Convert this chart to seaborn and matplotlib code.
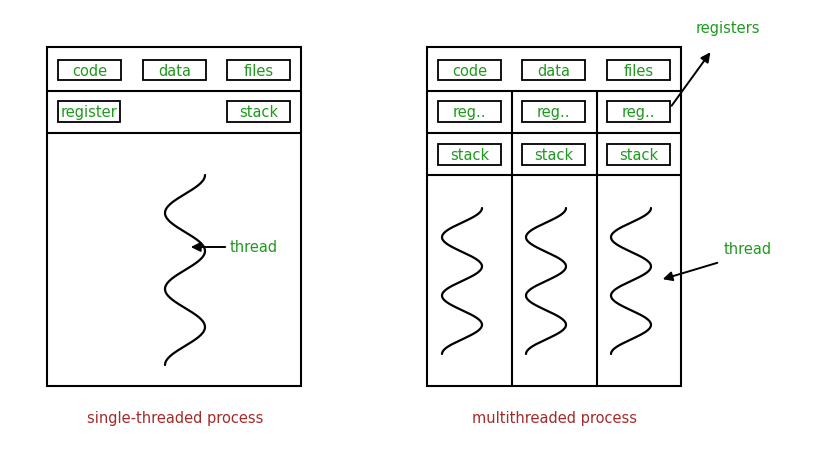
import numpy as np
import matplotlib.pyplot as plt
import seaborn as sns
from matplotlib.patches import Rectangle

sns.set_style("white")
plt.rcParams['font.family'] = ['DejaVu Sans']

GREEN = "#1f9a1f"
RED = "#a52a2a"

top_labels = ["code", "data", "files"]
single_row2 = ["register", "stack"]
multi_reg = ["reg..", "reg..", "reg.."]
multi_stack = ["stack", "stack", "stack"]
captions = ["single-threaded process", "multithreaded process"]

fig = plt.figure(figsize=(8.27, 4.62), dpi=100)
ax = fig.add_axes([0, 0, 1, 1])
ax.set_xlim(0, 827)
ax.set_ylim(462, 0)
ax.axis("off")


def box(x0, y0, x1, y1, lw=1.5):
    ax.add_patch(Rectangle((x0, y0), x1 - x0, y1 - y0, fill=False, ec="black", lw=lw))


def label_box(x0, y0, x1, y1, text):
    box(x0, y0, x1, y1, lw=1.3)
    ax.text((x0 + x1) / 2, (y0 + y1) / 2 + 1, text, color=GREEN, ha="center", va="center", fontsize=10.5)


def wave(xc, y0, y1, amp, periods):
    t = np.linspace(0, 1, 300)
    y = y0 + (y1 - y0) * t
    x = xc + amp * np.cos(2 * np.pi * periods * t)
    ax.plot(x, y, color="black", lw=1.6)


def arrow(x0, y0, x1, y1):
    ax.annotate("", xy=(x1, y1), xytext=(x0, y0),
                arrowprops=dict(arrowstyle="-|>", color="black", lw=1.4, mutation_scale=14))


# single-threaded
box(47, 47, 301, 386)
ax.plot([47, 301], [91, 91], color="black", lw=1.5)
ax.plot([47, 301], [133, 133], color="black", lw=1.5)
for lbl, x0 in zip(top_labels, [58, 143, 227]):
    label_box(x0, 60, x0 + 63, 80, lbl)
label_box(58, 101, 120, 122, single_row2[0])
label_box(227, 101, 290, 122, single_row2[1])
wave(185, 175, 365, 20, 2.5)
arrow(228, 247, 188, 247)
ax.text(230, 247, "thread", color=GREEN, ha="left", va="center", fontsize=10.5)

# multithreaded
box(427, 47, 681, 386)
for yy in [91, 133, 175]:
    ax.plot([427, 681], [yy, yy], color="black", lw=1.5)
for xx in [512, 597]:
    ax.plot([xx, xx], [91, 386], color="black", lw=1.5)
for i, x0 in enumerate([438, 522, 607]):
    label_box(x0, 60, x0 + 63, 80, top_labels[i])
    label_box(x0, 101, x0 + 63, 122, multi_reg[i])
    label_box(x0, 144, x0 + 63, 165, multi_stack[i])
for xc in [462, 546, 631]:
    wave(xc, 208, 354, 20, 2.5)
arrow(670, 108, 712, 50)
ax.text(728, 29, "registers", color=GREEN, ha="center", va="center", fontsize=10.5)
arrow(720, 262, 660, 280)
ax.text(748, 250, "thread", color=GREEN, ha="center", va="center", fontsize=10.5)

ax.text(175, 418, captions[0], color=RED, ha="center", va="center", fontsize=10.5)
ax.text(555, 418, captions[1], color=RED, ha="center", va="center", fontsize=10.5)

fig.savefig("out.png", dpi=100, facecolor="white")
